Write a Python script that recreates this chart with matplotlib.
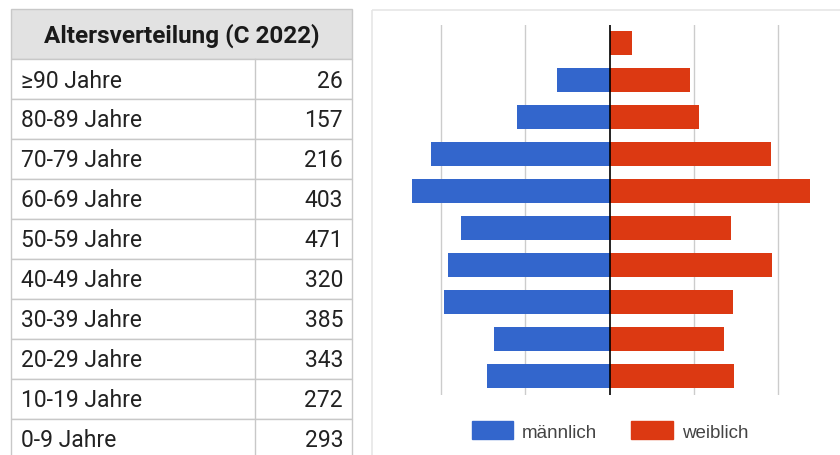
import matplotlib.pyplot as plt
from matplotlib.patches import Rectangle, Patch

# Data
age_groups = ["≥90 Jahre", "80-89 Jahre", "70-79 Jahre", "60-69 Jahre", "50-59 Jahre",
              "40-49 Jahre", "30-39 Jahre", "20-29 Jahre", "10-19 Jahre", "0-9 Jahre"]
totals = [26, 157, 216, 403, 471, 320, 385, 343, 272, 293]
maennlich = [0, 62, 110, 212, 234, 176, 192, 197, 137, 146]
weiblich = [26, 95, 106, 191, 237, 144, 193, 146, 135, 147]
title = "Altersverteilung (C 2022)"

blue = "#3366cc"
red = "#dc3912"
W, H = 840, 456

fig = plt.figure(figsize=(W / 100, H / 100), dpi=100)

# Overlay axes in pixel coordinates for the table
bg = fig.add_axes([0, 0, 1, 1])
bg.set_xlim(0, W)
bg.set_ylim(H, 0)
bg.axis("off")

# table
left, right, mid = 11, 352, 255
top, head_h, row_h = 10, 50, 40
border = "#c8c8c8"
bg.add_patch(Rectangle((left, top), right - left, head_h, facecolor="#e2e2e2", edgecolor=border, lw=1))
bg.text((left + right) / 2, top + head_h / 2 + 1, title, ha="center", va="center",
        fontsize=17.5, fontweight="bold", family="Roboto", color="#1a1a1a")
for i, (lab, val) in enumerate(zip(age_groups, totals)):
    y0 = top + head_h + i * row_h
    bg.add_patch(Rectangle((left, y0), right - left, row_h, facecolor="white", edgecolor=border, lw=1))
    bg.text(left + 10, y0 + row_h / 2 + 1, lab, ha="left", va="center",
            fontsize=16.5, family="Roboto", color="#222222")
    bg.text(right - 9, y0 + row_h / 2 + 1, str(val), ha="right", va="center",
            fontsize=16.5, family="Roboto", color="#222222")
bg.plot([mid, mid], [top + head_h, H], color=border, lw=1)

# chart panel border
bg.add_patch(Rectangle((372, 11), 480, 470, facecolor="none", edgecolor="#e6e6e6", lw=1.2))

# pyramid
ax = fig.add_axes([399 / W, 1 - 395.5 / H, 421.5 / W, 370 / H])
ypos = list(range(len(age_groups)))
ax.barh(ypos, [-m for m in maennlich], height=0.64, color=blue, zorder=3)
ax.barh(ypos, weiblich, height=0.64, color=red, zorder=3)
ax.axvline(0, color="black", lw=1.2, zorder=4)
ax.set_xlim(-250, 250)
ax.set_ylim(len(age_groups) - 0.5, -0.5)
ax.set_xticks([-200, -100, 100, 200])
ax.set_yticks([])
ax.grid(axis="x", color="#cccccc", lw=1)
ax.tick_params(length=0, labelbottom=False)
for s in ax.spines.values():
    s.set_visible(False)
ax.patch.set_alpha(0)

handles = [Patch(color=blue, label="männlich"), Patch(color=red, label="weiblich")]
fig.legend(handles=handles, loc="center", bbox_to_anchor=(610 / W, 1 - 432 / H), ncol=2,
           frameon=False, prop={"family": "Liberation Sans", "size": 13.5},
           handlelength=2.2, handleheight=1.07, handletextpad=0.5,
           columnspacing=1.8, labelcolor="#444444")

fig.savefig("out.png", dpi=100)
